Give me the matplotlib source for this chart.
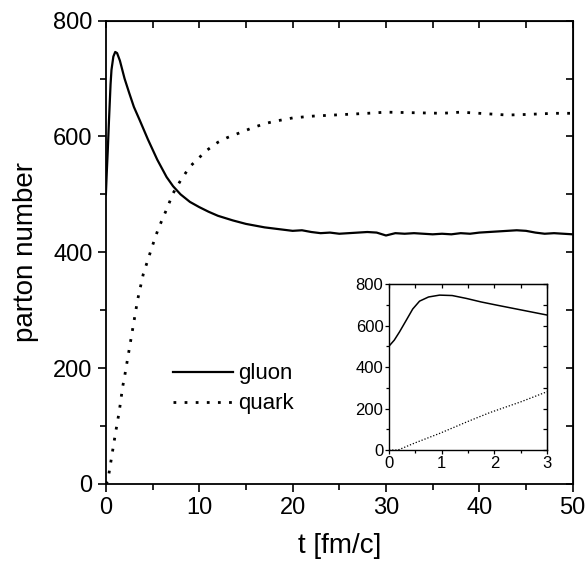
import numpy as np
import matplotlib
matplotlib.use("Agg")
import matplotlib.pyplot as plt

plt.rcParams['font.family'] = ['Liberation Sans', 'DejaVu Sans']

# gluon number vs time (main panel)
gluon_t = [0, 0.1, 0.2, 0.33, 0.5, 0.6, 0.8, 1.0, 1.2, 1.5, 2.0, 2.5, 3.0, 3.6, 4.5,
           5.5, 6.5, 7.2, 8, 9, 10, 11, 12, 13.6, 15, 16, 17, 18, 19, 20, 21, 22, 23,
           24, 25, 26, 27, 28, 29, 30, 31, 32, 33, 34, 35, 36, 37, 38, 39, 40, 41, 42,
           43, 44, 45, 46, 47, 48, 49, 50]
gluon_n = [500, 540, 575, 627, 690, 715, 738, 746, 744, 731, 700, 675, 651, 629, 595,
           560, 530, 514, 500, 487, 478, 470, 463, 455, 449, 446, 443, 441, 439, 437, 438, 435, 433,
           434, 432, 433, 434, 435, 434, 429, 433, 432, 433, 432, 431, 432, 431, 433, 432, 434, 435, 436,
           437, 438, 437, 434, 432, 433, 432, 431]

# quark number vs time (main panel)
quark_t = [0, 0.2, 0.5, 1.0, 1.43, 1.8, 2.0, 3.0, 3.4, 4.0, 5.0, 5.6, 6.5, 7.2, 8, 9,
           10.8, 12, 13, 14.6, 15.7, 17, 18, 20, 22, 25.6, 28, 30, 33, 36, 38, 40, 43, 45,
           48, 50]
quark_n = [0, 5, 35, 85, 125, 168, 185, 280, 318, 362, 412, 440, 474, 502, 524, 548,
           576, 590, 598, 608, 615, 622, 626, 632, 635, 638, 640, 642, 641, 640, 642, 640, 637, 638,
           640, 640]

# early-time zoom (inset)
inset_gluon_t = [0, 0.1, 0.2, 0.33, 0.45, 0.58, 0.75, 0.96, 1.2, 1.47, 1.75, 2.04, 2.5, 3.0]
inset_gluon_n = [501, 530, 570, 627, 680, 718, 738, 747, 745, 731, 714, 699, 676, 651]
inset_quark_t = [0, 0.17, 0.5, 0.96, 1.5, 1.91, 2.5, 3.0]
inset_quark_n = [0, 0, 35, 80, 138, 180, 232, 281]

fig = plt.figure(figsize=(5.85, 5.74), dpi=100)
ax = fig.add_axes([0.181, 0.157, 0.798, 0.807])

ax.plot(gluon_t, gluon_n, color='black', lw=1.6, label='gluon')
ax.plot(quark_t, quark_n, color='black', lw=2.0, linestyle=(0, (1, 3)), label='quark')

ax.set_xlim(0, 50)
ax.set_ylim(0, 800)
ax.set_xticks([0, 10, 20, 30, 40, 50])
ax.set_xticks([5, 15, 25, 35, 45], minor=True)
ax.set_yticks([0, 200, 400, 600, 800])
ax.set_yticks([100, 300, 500, 700], minor=True)
ax.tick_params(which='both', direction='out', top=False, right=False, labelsize=17, width=1.2)
ax.tick_params(which='major', length=6)
ax.tick_params(which='minor', length=4)
for s in ax.spines.values():
    s.set_linewidth(1.3)

# inward ticks on top and right
ax_top = ax.secondary_xaxis('top')
ax_top.set_xticks([0, 5, 10, 15, 20, 25, 30, 35, 40, 45, 50])
ax_top.tick_params(direction='in', length=5, width=1.2, labeltop=False)
ax_right = ax.secondary_yaxis('right')
ax_right.set_yticks([0, 100, 200, 300, 400, 500, 600, 700, 800])
ax_right.tick_params(direction='in', length=5, width=1.2, labelright=False)

ax.set_xlabel('t [fm/c]', fontsize=20, labelpad=10)
ax.set_ylabel('parton number', fontsize=20, labelpad=10)

ax.legend(loc='center left', bbox_to_anchor=(0.143, 0.205), frameon=False, fontsize=16,
          handlelength=2.7, handletextpad=0.25, labelspacing=0.4, borderpad=0, borderaxespad=0)

# inset
ins = fig.add_axes([0.665, 0.216, 0.270, 0.289])
ins.plot(inset_gluon_t, inset_gluon_n, color='black', lw=1.1)
ins.plot(inset_quark_t, inset_quark_n, color='black', lw=0.9, linestyle=(0, (1, 1.5)))
ins.set_xlim(0, 3)
ins.set_ylim(0, 800)
ins.set_xticks([0, 1, 2, 3])
ins.set_xticks([0.5, 1.5, 2.5], minor=True)
ins.set_yticks([0, 200, 400, 600, 800])
ins.set_yticks([100, 300, 500, 700], minor=True)
ins.tick_params(which='both', direction='out', labelsize=12, width=0.9, pad=1)
ins.tick_params(which='major', length=3)
ins.tick_params(which='minor', length=2)
for s in ins.spines.values():
    s.set_linewidth(1.0)
ins_top = ins.secondary_xaxis('top')
ins_top.set_xticks([0, 0.5, 1, 1.5, 2, 2.5, 3])
ins_top.tick_params(direction='in', length=3, width=0.9, labeltop=False)
ins_right = ins.secondary_yaxis('right')
ins_right.set_yticks([0, 100, 200, 300, 400, 500, 600, 700, 800])
ins_right.tick_params(direction='in', length=3, width=0.9, labelright=False)

fig.savefig('out.png', dpi=100)
